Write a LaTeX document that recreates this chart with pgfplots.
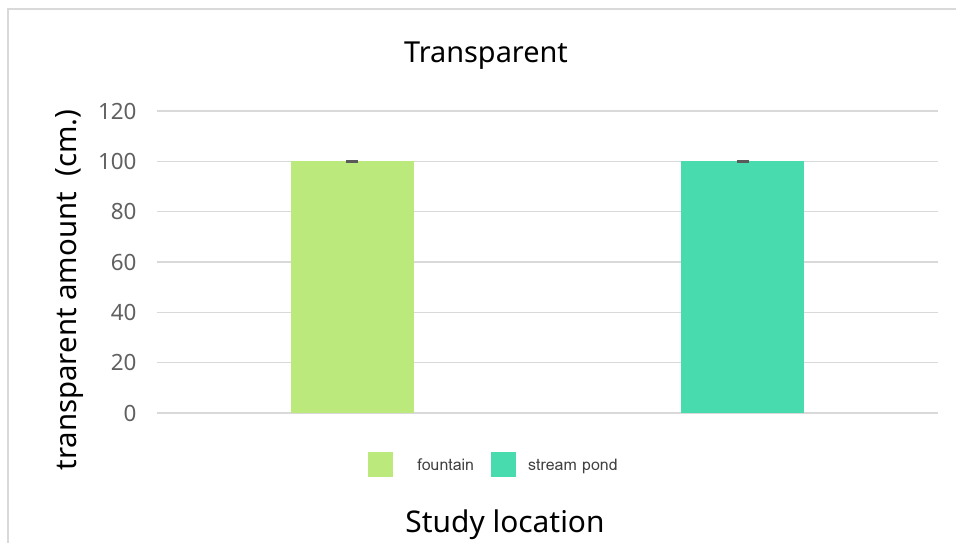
\documentclass[border=0pt]{standalone}
\usepackage{pgfplots}
\pgfplotsset{compat=1.18}
\usepackage{fontspec}
\setmainfont{Noto Sans}
\newfontfamily\legendfont{Loma}
\definecolor{fountainc}{RGB}{187,233,123}
\definecolor{streamc}{RGB}{71,219,174}
\definecolor{gridc}{RGB}{217,217,217}
\definecolor{tickc}{RGB}{96,96,96}
\definecolor{capc}{RGB}{90,90,90}
\begin{document}
\begin{tikzpicture}[x=1bp,y=1bp]
\useasboundingbox (0,0) rectangle (956,543);
% outer frame (top and left edges)
\draw[gridc, line width=1.6bp] (8,0) -- (8,534) -- (956,534);
\begin{axis}[
  at={(157bp,130bp)}, anchor=south west,
  scale only axis, width=781bp, height=302bp,
  xmin=-0.5, xmax=1.5, ymin=0, ymax=120,
  ytick={0,20,...,120}, xtick=\empty,
  axis line style={draw=none},
  major tick length=0pt,
  ymajorgrids, grid style={gridc, line width=1.5bp},
  yticklabel style={font=\fontsize{22.5}{26}\selectfont, text=tickc, xshift=-17bp},
  /pgf/number format/assume math mode=true,
  clip=false,
  legend columns=2,
  legend style={at={(0.4315,-0.172)}, anchor=center, draw=none, fill=none,
    font=\legendfont\fontsize{16}{18}\selectfont, text=black!75,
    /tikz/every even column/.append style={column sep=15bp},
    nodes={inner sep=2bp, text depth=0pt}},
  legend image code/.code={\fill[#1,draw=none] (0bp,-12.5bp) rectangle (25bp,12.5bp);},
  every axis legend/.append style={inner sep=0pt},
]
\addplot[ybar, bar width=123bp, bar shift=0pt, fill=fountainc, draw=none,
  error bars/.cd, y dir=plus, y explicit,
  error mark options={capc, line width=2.5bp, mark size=6bp, rotate=90},
  error bar style={capc, line width=2.5bp}]
  coordinates {(0,100) +- (0,0)};
\addlegendentry{\hspace{22bp}fountain}
\addplot[ybar, bar width=123bp, bar shift=0pt, fill=streamc, draw=none,
  error bars/.cd, y dir=plus, y explicit,
  error mark options={capc, line width=2.5bp, mark size=6bp, rotate=90},
  error bar style={capc, line width=2.5bp}]
  coordinates {(1,100) +- (0,0)};
\addlegendentry{\hspace{10bp}stream pond}
\end{axis}
\node[font=\fontsize{29}{34}\selectfont] at (486,487) {Transparent};
\node[font=\fontsize{29.5}{34}\selectfont, rotate=90] at (70,253) {transparent amount\ \ (cm.)};
\node[font=\fontsize{30}{34}\selectfont] at (505,18) {Study location};
\end{tikzpicture}
\end{document}
